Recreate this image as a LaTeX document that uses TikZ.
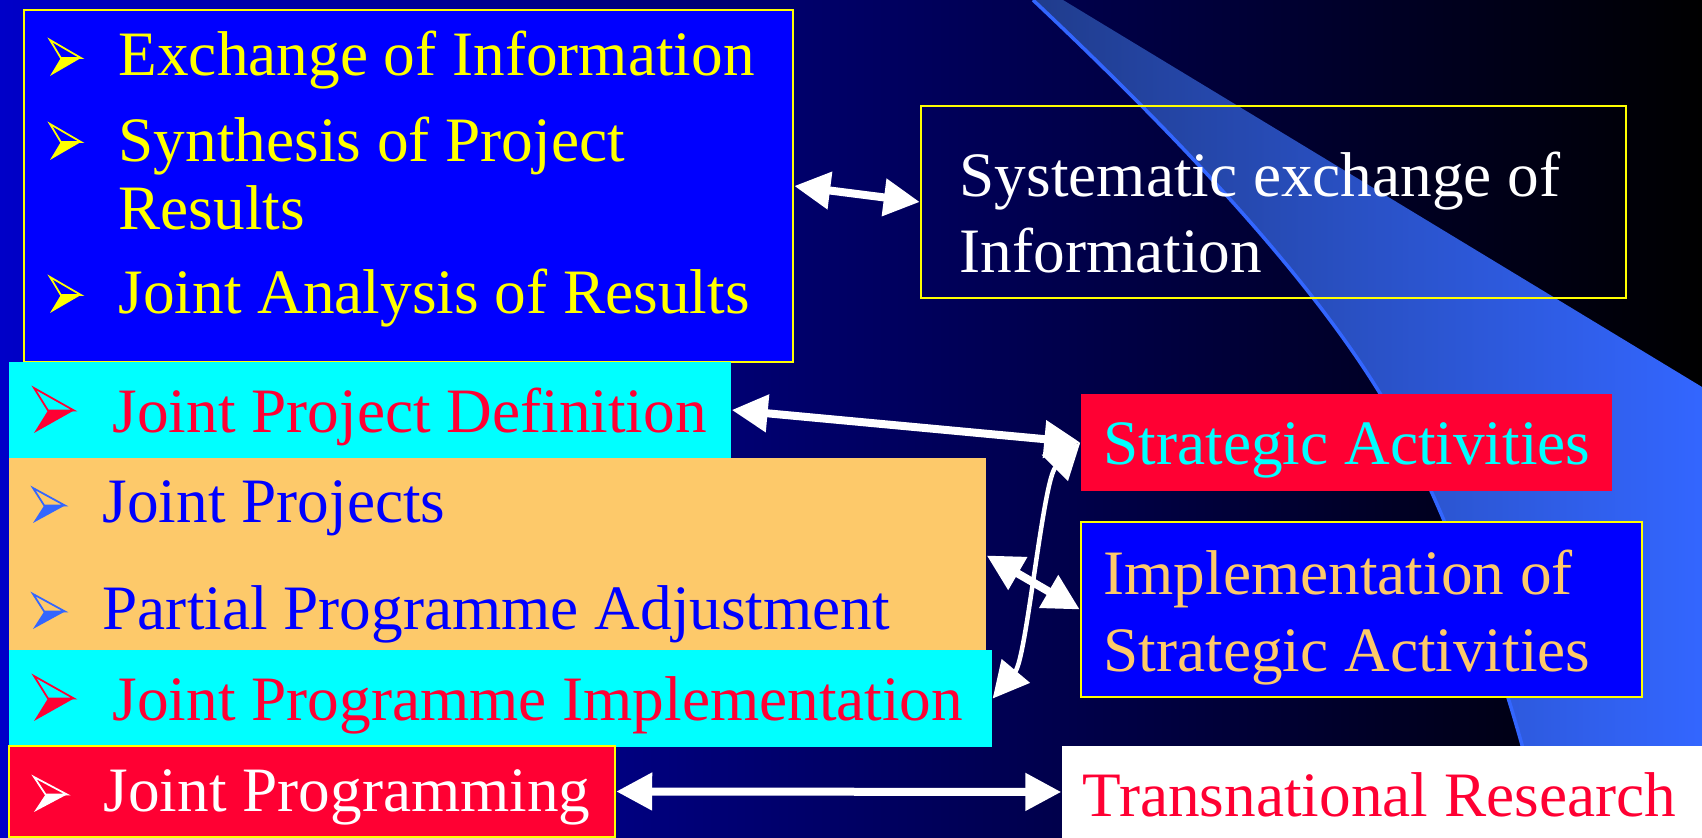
\documentclass[tikz,border=0pt]{standalone}
\usepackage{fontspec}
\setmainfont{Liberation Serif}
\usepackage{tikz}
\usetikzlibrary{arrows.meta}
\definecolor{slblue}{RGB}{0,0,255}
\definecolor{slred}{RGB}{255,0,51}
\definecolor{slorange}{RGB}{253,201,106}
\definecolor{slcyan}{RGB}{0,255,255}
\definecolor{slyellow}{RGB}{255,255,0}
\definecolor{bgleft}{RGB}{0,0,200}
\definecolor{bandl}{RGB}{32,60,140}
\definecolor{bandr}{RGB}{51,102,255}
\tikzset{pics/bul/.style={code={
  \fill[#1] (0,0) -- (0.35,0.5) -- (1,0.5) -- cycle;
  \draw[#1, line width=0.5pt, line join=miter] (0,1) -- (1,0.5) -- (0.35,0.5) -- cycle;}}}

\begin{document}
\begin{tikzpicture}[inner sep=0pt, >={Triangle[length=0.36cm,width=0.36cm]}]
  \tikzstyle{box}=[rectangle, draw=none, inner sep=0pt]
  \tikzstyle{ybox}=[box, draw=slyellow, line width=0.7pt]
  \tikzstyle{txt}=[anchor=base west, inner sep=0pt, font=\fontsize{18}{21.6}\selectfont]
  \tikzstyle{link}=[white, line width=0.08cm, <->]
  \useasboundingbox (0,0) rectangle (17.02,8.38);
  % background and swoosh
  \shade[left color=bgleft, right color=black] (0,0) rectangle (17.02,8.38);
  \shade[left color=bandl, right color=bandr] (10.33,8.38) .. controls (11.9,6.9) and (13.3,5.4) .. (14.0,4.1)
     .. controls (14.6,3.0) and (15.2,1.2) .. (15.45,0) -- (17.02,0) -- (17.02,4.51) -- (10.63,8.38) -- cycle;
  \draw[bandr, line width=1pt] (10.33,8.38) .. controls (11.9,6.9) and (13.3,5.4) .. (14.0,4.1)
     .. controls (14.6,3.0) and (15.2,1.2) .. (15.45,0);

  \node[ybox, fill=slblue, minimum width=7.69cm, minimum height=3.52cm] (info)  at (4.085,6.52) {};
  \node[ybox, minimum width=7.05cm, minimum height=1.92cm]              (sysx)  at (12.735,6.36) {};
  \node[box, fill=slcyan, minimum width=7.22cm, minimum height=0.96cm]  (jpd)   at (3.70,4.28) {};
  \node[box, fill=slorange, minimum width=9.77cm, minimum height=1.95cm] (jproj) at (4.975,2.825) {};
  \node[box, fill=slcyan, minimum width=9.83cm, minimum height=0.97cm]  (jpi)   at (5.005,1.395) {};
  \node[ybox, fill=slred, minimum width=6.06cm, minimum height=0.91cm]  (jprog) at (3.12,0.465) {};
  \node[box, fill=slred, minimum width=5.31cm, minimum height=0.97cm]   (strat) at (13.465,3.955) {};
  \node[ybox, fill=slblue, minimum width=5.61cm, minimum height=1.75cm] (impl)  at (13.615,2.285) {};
  \node[box, fill=white, minimum width=6.40cm, minimum height=0.92cm]   (trans) at (13.82,0.46) {};

  \node[txt, text=slyellow] (l1) at (1.18,7.62) {Exchange of Information};
  \node[txt, text=slyellow] (l2) at (1.18,6.76) {Synthesis of Project};
  \node[txt, text=slyellow] (l3) at (1.18,6.08) {Results};
  \node[txt, text=slyellow] (l4) at (1.18,5.24) {Joint Analysis of Results};
  \node[txt, text=white]    (s1) at (9.59,6.41) {Systematic exchange of};
  \node[txt, text=white]    (s2) at (9.59,5.65) {Information};
  \node[txt, text=slred]    (d1) at (1.12,4.05) {Joint Project Definition};
  \node[txt, text=slblue]   (p1) at (1.02,3.15) {Joint Projects};
  \node[txt, text=slblue]   (p2) at (1.02,2.08) {Partial Programme Adjustment};
  \node[txt, text=slred]    (i1) at (1.12,1.17) {Joint Programme Implementation};
  \node[txt, text=white]    (g1) at (1.03,0.26) {Joint Programming};
  \node[txt, text=slcyan]   (a1) at (11.03,3.73) {Strategic Activities};
  \node[txt, text=slorange] (m1) at (11.03,2.43) {Implementation of};
  \node[txt, text=slorange] (m2) at (11.03,1.66) {Strategic Activities};
  \node[txt, text=slred]    (r1) at (10.82,0.21) {Transnational Research};

  % bullets
  \pic[xscale=0.31, yscale=0.36] at (0.50,7.62) {bul=slyellow};
  \pic[xscale=0.31, yscale=0.36] at (0.50,6.78) {bul=slyellow};
  \pic[xscale=0.31, yscale=0.36] at (0.50,5.25) {bul=slyellow};
  \pic[xscale=0.40, yscale=0.45] at (0.34,4.05) {bul=slred};
  \pic[xscale=0.32, yscale=0.35] at (0.33,3.15) {bul=bandr};
  \pic[xscale=0.32, yscale=0.35] at (0.33,2.09) {bul=bandr};
  \pic[xscale=0.40, yscale=0.45] at (0.34,1.17) {bul=slred};
  \pic[xscale=0.33, yscale=0.35] at (0.34,0.26) {bul=white};

  \path[link] (info.east)  edge (sysx.west)
              (jpd.east)   edge (strat.west)
              (jproj.east) edge (impl.west)
              (jprog.east) edge (trans.west);
  \path[link, line width=0.045cm] (strat.west) edge [out=225, in=50, looseness=0.5] (jpi.east);
\end{tikzpicture}
\end{document}
